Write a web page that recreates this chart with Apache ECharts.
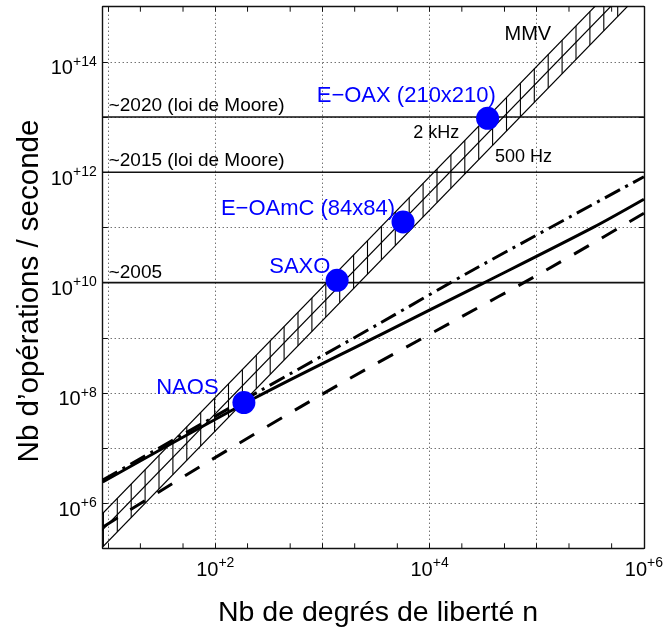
<!DOCTYPE html>
<html><head><meta charset="utf-8">
<script src="https://cdn.jsdelivr.net/npm/echarts@6/dist/echarts.min.js"></script>
<style>html,body{margin:0;padding:0;background:#fff}#c{width:666px;height:637px}</style>
</head><body><div id="c"></div>
<script>
const FONT = "'Liberation Sans', Arial, Helvetica, sans-serif";

// ---- axes ----
const xRange = [8.9, 1e6];
const yRange = [1.53e5, 1e15];
const xLabelExponents = [2, 4, 6];
const yLabelExponents = [6, 8, 10, 12, 14];
const xMinorTicks = [20, 50, 200, 500, 2000, 5000, 20000, 50000, 200000, 500000];

// ---- MMV band (ops/s grows as n^2), line end points ----
const mmvN = [1, 1e6];
const mmv2kHz = [8.3e3, 8.3e15];
const mmv1kHz = [4.2e3, 4.2e15];
const mmv500Hz = [2.05e3, 2.05e15];

// ---- Moore law levels ----
const mooreLabels = ['~2020 (loi de Moore)', '~2015 (loi de Moore)', '~2005'];
const mooreLevels = [1e13, 1e12, 1e10];

// ---- other algorithms ----
const dashDotN = [8.9, 250, 3430, 25400, 1e6];
const dashDotOps = [2.65e6, 1.04e8, 1.83e9, 1.69e10, 8.3e11];
const solidN = [8.9, 234, 3430, 31500, 3.33e5, 1e6];
const solidOps = [2.43e6, 8.1e7, 1.12e9, 9.7e9, 9.9e10, 3.24e11];
const dashedN = [9.04, 72, 1400, 15400, 1.23e5, 1e6];
const dashedOps = [3.77e5, 4.61e6, 1.39e8, 1.83e9, 1.69e10, 1.8e11];

// ---- AO systems ----
const systems = ['NAOS', 'SAXO', 'E\u2212OAmC (84x84)', 'E\u2212OAX (210x210)'];
const systemN = [185, 1370, 5650, 34800];
const systemOps = [6.7e7, 1.1e10, 1.26e11, 9.5e12];

// ---- annotations ----
const noteTexts = ['MMV', '2 kHz', '500 Hz'];
const noteN = [82600, 11560, 75400];
const noteOps = [3.2e14, 5.1e12, 1.91e12];

// ---- styles (label offsets in px) ----
const systemLabelOffsets = [[-56.5, -14.7], [-37.3, -13.6], [-95, -13], [-81.3, -22]];
const noteFontSizes = [20, 18, 18];
const HATCH_STEP = 13.9, HATCH_PHASE = 0.7;
const INK = '#000';

const zip = (a, b) => a.map((v, i) => [v, b[i]]);

function expLabel(list) {
  return function (v) {
    const l = Math.log10(v), e = Math.round(l);
    if (Math.abs(l - e) > 1e-6 || list.indexOf(e) < 0) return '';
    return '{b|10}{s|+' + e + '}';
  };
}
const rich = {
  b: { fontFamily: FONT, fontSize: 20, color: '#000', lineHeight: 24, verticalAlign: 'bottom' },
  s: { fontFamily: FONT, fontSize: 14, color: '#000', lineHeight: 24, verticalAlign: 'top' }
};
const frameLine = { show: true, lineStyle: { color: '#111', width: 1.4 } };
const tick = { show: true, inside: true, length: 5, lineStyle: { color: '#111', width: 1 } };
const grid = { show: true, lineStyle: { color: '#333', width: 1, type: [1, 3] } };

const chart = echarts.init(document.getElementById('c'), null, { renderer: 'canvas' });

const series = [];
// Moore horizontal lines
mooreLevels.forEach(function (lv) {
  series.push({ type: 'line', data: [[xRange[0], lv], [xRange[1], lv]], symbol: 'none', silent: true,
    lineStyle: { color: '#111', width: 1.6 }, z: 3, animation: false });
});
// MMV lines
[mmv2kHz, mmv1kHz, mmv500Hz].forEach(function (arr) {
  series.push({ type: 'line', data: zip(mmvN, arr), symbol: 'none', silent: true, clip: true,
    lineStyle: { color: INK, width: 1.2 }, z: 4, animation: false });
});
// hatch
series.push({
  type: 'custom', silent: true, z: 4, animation: false,
  data: [[xRange[0], yRange[0]]],
  renderItem: function (params, api) {
    const cs = params.coordSys;
    const u0 = api.coord([mmvN[0], mmv2kHz[0]]), u1 = api.coord([mmvN[1], mmv2kHz[1]]);
    const l0 = api.coord([mmvN[0], mmv500Hz[0]]), l1 = api.coord([mmvN[1], mmv500Hz[1]]);
    const yAt = (a, b, x) => a[1] + (b[1] - a[1]) * (x - a[0]) / (b[0] - a[0]);
    const children = [];
    for (let x = cs.x + HATCH_PHASE; x <= cs.x + cs.width; x += HATCH_STEP) {
      children.push({ type: 'line', shape: { x1: x, y1: yAt(u0, u1, x), x2: x, y2: yAt(l0, l1, x) },
        style: { stroke: INK, lineWidth: 1.1 } });
    }
    return { type: 'group', children: children,
      clipPath: { type: 'rect', shape: { x: cs.x, y: cs.y, width: cs.width, height: cs.height } } };
  }
});
// minor x ticks (2 and 5 per decade), bottom and top
series.push({
  type: 'custom', silent: true, z: 5, animation: false,
  data: xMinorTicks.map(v => [v, yRange[0]]),
  renderItem: function (params, api) {
    const cs = params.coordSys;
    const x = api.coord([api.value(0), yRange[0]])[0];
    const yb = cs.y + cs.height, yt = cs.y;
    return { type: 'group', children: [
      { type: 'line', shape: { x1: x, y1: yb, x2: x, y2: yb - 5 }, style: { stroke: '#111', lineWidth: 1 } },
      { type: 'line', shape: { x1: x, y1: yt, x2: x, y2: yt + 5 }, style: { stroke: '#111', lineWidth: 1 } }
    ] };
  }
});
// curves
series.push({ type: 'line', data: zip(dashDotN, dashDotOps), symbol: 'none', smooth: 0.3, silent: true,
  lineStyle: { color: '#000', width: 3, type: [17, 6, 3, 6] }, z: 6, animation: false });
series.push({ type: 'line', data: zip(solidN, solidOps), symbol: 'none', smooth: 0.3, silent: true,
  lineStyle: { color: '#000', width: 3 }, z: 6, animation: false });
series.push({ type: 'line', data: zip(dashedN, dashedOps), symbol: 'none', smooth: 0.3, silent: true,
  lineStyle: { color: '#000', width: 3, type: [17, 15] }, z: 6, animation: false });
// systems
series.push({
  type: 'scatter', symbol: 'circle', symbolSize: 23, silent: true, z: 8, animation: false,
  itemStyle: { color: '#0000ff', opacity: 1 },
  data: systems.map(function (nm, i) {
    return { name: nm, value: [systemN[i], systemOps[i]],
      label: { show: true, formatter: nm, position: 'inside', offset: systemLabelOffsets[i],
        align: 'center', verticalAlign: 'middle', color: '#0000ff', opacity: 1,
        textBorderWidth: 0, fontFamily: FONT, fontSize: 22 } };
  })
});
// Moore labels
series.push({
  type: 'scatter', symbolSize: 0, silent: true, z: 9, animation: false,
  itemStyle: { opacity: 1 },
  data: mooreLabels.map(function (t, i) {
    return { value: [xRange[0], mooreLevels[i]],
      label: { show: true, formatter: t, position: 'inside', offset: [6, i === 2 ? -10 : -11],
        align: 'left', verticalAlign: 'middle', color: '#000', opacity: 1, textBorderWidth: 0,
        fontFamily: FONT, fontSize: 19 } };
  })
});
// annotations
series.push({
  type: 'scatter', symbolSize: 0, silent: true, z: 9, animation: false,
  itemStyle: { opacity: 1 },
  data: noteTexts.map(function (t, i) {
    return { value: [noteN[i], noteOps[i]],
      label: { show: true, formatter: t, position: 'inside', align: 'center', verticalAlign: 'middle',
        color: '#000', opacity: 1, textBorderWidth: 0, fontFamily: FONT, fontSize: noteFontSizes[i] } };
  })
});

chart.setOption({
  animation: false,
  backgroundColor: '#fff',
  grid: { left: 102.7, right: 21, top: 6.7, bottom: 88.7, containLabel: false },
  xAxis: [
    { type: 'log', logBase: 10, min: xRange[0], max: xRange[1], position: 'bottom',
      axisLine: frameLine, axisTick: tick, splitLine: grid, minorTick: { show: false },
      axisLabel: { show: true, margin: 8, formatter: expLabel(xLabelExponents), rich: rich, showMinLabel: true, showMaxLabel: true } },
    { type: 'log', logBase: 10, min: xRange[0], max: xRange[1], position: 'top',
      axisLine: frameLine, axisTick: tick, splitLine: { show: false }, axisLabel: { show: false } }
  ],
  yAxis: [
    { type: 'log', logBase: 10, min: yRange[0], max: yRange[1], splitNumber: 10, position: 'left',
      axisLine: frameLine, axisTick: tick, splitLine: grid,
      axisLabel: { show: true, margin: 6, padding: [10, 0, 0, 0], formatter: expLabel(yLabelExponents), rich: rich } },
    { type: 'log', logBase: 10, min: yRange[0], max: yRange[1], splitNumber: 10, position: 'right',
      axisLine: frameLine, axisTick: tick, splitLine: { show: false }, axisLabel: { show: false } }
  ],
  graphic: [
    { type: 'text', x: 378, y: 613, silent: true,
      style: { text: 'Nb de degrés de liberté n', fontFamily: FONT, fontSize: 28.5, fill: '#000', textAlign: 'center', textVerticalAlign: 'middle' } },
    { type: 'text', x: 30, y: 291, rotation: Math.PI / 2, silent: true,
      style: { text: 'Nb d\u2019opérations / seconde', fontFamily: FONT, fontSize: 29.5, fill: '#000', textAlign: 'center', textVerticalAlign: 'middle' } }
  ],
  series: series
});
</script></body></html>
